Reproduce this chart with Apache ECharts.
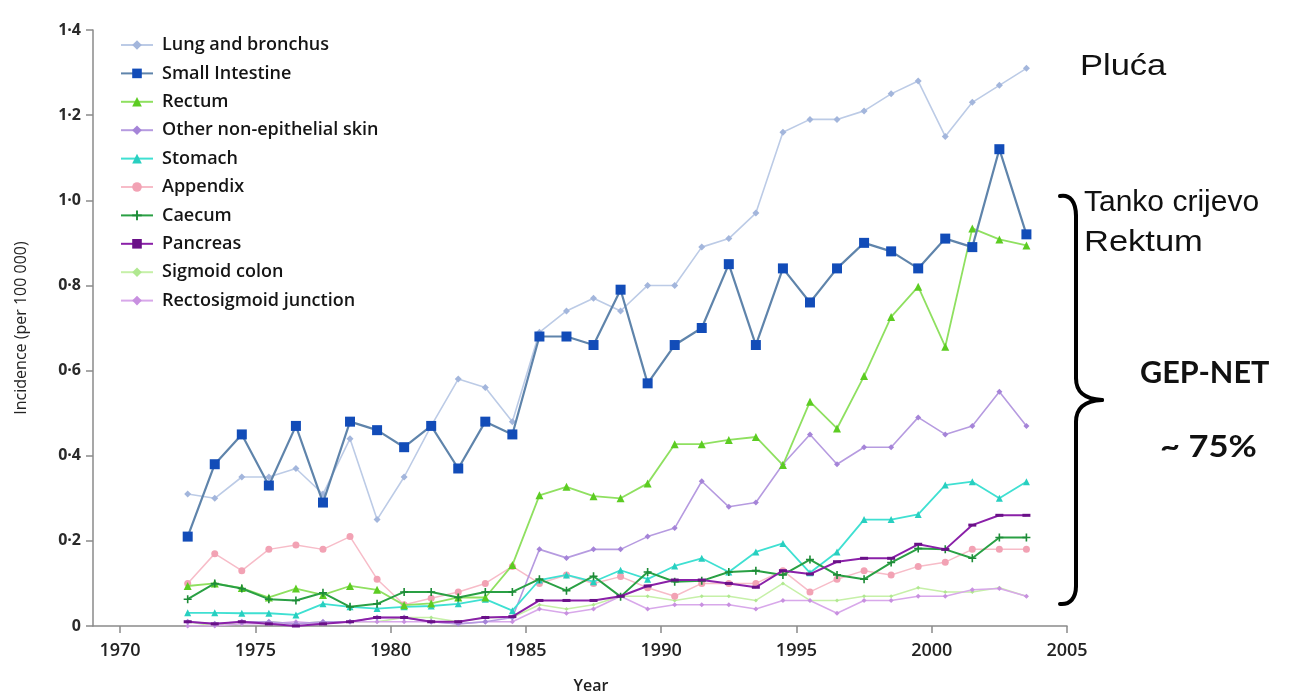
<!DOCTYPE html>
<html>
<head>
<meta charset="utf-8">
<script src="https://cdn.jsdelivr.net/npm/echarts@6/dist/echarts.min.js"></script>
<style>
html,body{margin:0;padding:0;background:#fff;}
#chart{width:1301px;height:700px;}
</style>
</head>
<body>
<div id="chart"></div>
<script>
const years = [1972.5,1973.5,1974.5,1975.5,1976.5,1977.5,1978.5,1979.5,1980.5,1981.5,1982.5,1983.5,1984.5,1985.5,1986.5,1987.5,1988.5,1989.5,1990.5,1991.5,1992.5,1993.5,1994.5,1995.5,1996.5,1997.5,1998.5,1999.5,2000.5,2001.5,2002.5,2003.5];
const xTicks = [1970,1975,1980,1985,1990,1995,2000,2005];
const yTicks = [0,0.2,0.4,0.6,0.8,1.0,1.2,1.4];

const lung = [0.31,0.30,0.35,0.35,0.37,0.31,0.44,0.25,0.35,0.47,0.58,0.56,0.48,0.69,0.74,0.77,0.74,0.80,0.80,0.89,0.91,0.97,1.16,1.19,1.19,1.21,1.25,1.28,1.15,1.23,1.27,1.31];
const smallIntestine = [0.21,0.38,0.45,0.33,0.47,0.29,0.48,0.46,0.42,0.47,0.37,0.48,0.45,0.68,0.68,0.66,0.79,0.57,0.66,0.70,0.85,0.66,0.84,0.76,0.84,0.90,0.88,0.84,0.91,0.89,1.12,0.92];
const rectum = [0.094,0.10,0.089,0.067,0.088,0.073,0.094,0.085,0.049,0.053,0.067,0.067,0.143,0.307,0.327,0.305,0.30,0.335,0.427,0.427,0.437,0.444,0.378,0.527,0.464,0.587,0.726,0.797,0.656,0.934,0.908,0.894];
const skin = [0.01,0.005,0.01,0.01,0.005,0.01,0.01,0.02,0.02,0.01,0.005,0.01,0.02,0.18,0.16,0.18,0.18,0.21,0.23,0.34,0.28,0.29,0.38,0.45,0.38,0.42,0.42,0.49,0.45,0.47,0.55,0.47];
const stomach = [0.031,0.031,0.03,0.03,0.026,0.052,0.045,0.041,0.045,0.047,0.052,0.063,0.036,0.108,0.12,0.104,0.131,0.11,0.141,0.159,0.127,0.174,0.194,0.125,0.174,0.25,0.25,0.262,0.331,0.339,0.30,0.339];
const appendix = [0.10,0.17,0.13,0.18,0.19,0.18,0.21,0.11,0.05,0.065,0.08,0.10,0.14,0.10,0.12,0.10,0.116,0.09,0.07,0.10,0.10,0.10,0.13,0.08,0.11,0.13,0.12,0.14,0.15,0.18,0.18,0.18];
const caecum = [0.063,0.10,0.088,0.063,0.06,0.078,0.045,0.052,0.08,0.08,0.067,0.08,0.08,0.11,0.083,0.117,0.069,0.127,0.104,0.106,0.127,0.13,0.12,0.156,0.12,0.11,0.149,0.182,0.18,0.159,0.208,0.208];
const pancreas = [0.01,0.005,0.01,0.005,0.0,0.005,0.01,0.02,0.02,0.01,0.01,0.02,0.022,0.06,0.06,0.06,0.07,0.094,0.108,0.108,0.10,0.091,0.13,0.122,0.151,0.159,0.159,0.192,0.18,0.237,0.26,0.26];
const sigmoid = [0.01,0.0,0.01,0.01,0.005,0.01,0.01,0.01,0.02,0.02,0.01,0.02,0.02,0.05,0.04,0.05,0.07,0.07,0.06,0.07,0.07,0.06,0.10,0.06,0.06,0.07,0.07,0.09,0.08,0.08,0.09,0.07];
const rectosigmoid = [0.0,0.0,0.005,0.005,0.01,0.005,0.01,0.01,0.01,0.01,0.005,0.01,0.01,0.04,0.03,0.04,0.07,0.04,0.05,0.05,0.05,0.04,0.06,0.06,0.03,0.06,0.06,0.07,0.07,0.085,0.088,0.07];

const seriesNames = ['Lung and bronchus','Small Intestine','Rectum','Other non-epithelial skin','Stomach','Appendix','Caecum','Pancreas','Sigmoid colon','Rectosigmoid junction'];

function pairs(arr){ return years.map((y,i)=>[y,arr[i]]); }

const plusPath = 'path://M4,0h2v4h4v2h-4v4h-2v-4h-4v-2h4z';

function mk(name, arr, lineColor, markColor, symbol, size, width, z){
  return {
    name: name, type: 'line', data: pairs(arr), z: z,
    symbol: symbol, symbolSize: size, showSymbol: symbol !== 'none',
    lineStyle: {color: lineColor, width: width},
    itemStyle: {color: markColor},
    emphasis: {disabled: true},
    animation: false
  };
}

const braceStyle = {stroke: '#000', lineWidth: 4, fill: null, lineCap: 'round'};

const chart = echarts.init(document.getElementById('chart'), null, {renderer:'canvas'});
const option = {
  backgroundColor: '#fff',
  animation: false,
  grid: {left: 93, right: 234, top: 30, bottom: 74, containLabel: false},
  legend: {
    orient: 'vertical', left: 115, top: 31,
    itemWidth: 32, itemHeight: 12, itemGap: 10.4,
    data: seriesNames,
    textStyle: {fontFamily: 'Open Sans', fontSize: 18, fontWeight: 600, color: '#151515', padding: [0,0,0,4]}
  },
  xAxis: {
    type: 'value', min: 1969, max: 2005,
    name: 'Year', nameLocation: 'middle', nameGap: 52,
    nameTextStyle: {fontFamily: 'Open Sans', fontSize: 16, fontWeight: 600, color: '#222', padding:[0,0,0,22]},
    splitLine: {show: false},
    axisLine: {show: true, lineStyle: {color: '#8a8a8a', width: 1.5}},
    axisTick: {show: true, length: 7, inside: false, customValues: xTicks, lineStyle: {color: '#8a8a8a', width: 1.5}},
    axisLabel: {customValues: xTicks, margin: 16, fontFamily: 'Open Sans', fontSize: 18, fontWeight: 600, color: '#222',
      formatter: function(v){ return String(Math.round(v)); }}
  },
  yAxis: {
    type: 'value', min: 0, max: 1.4, interval: 0.2,
    name: 'Incidence (per 100 000)', nameLocation: 'middle', nameGap: 64, nameRotate: 90,
    nameTextStyle: {fontFamily: 'Open Sans', fontSize: 16, fontWeight: 500, color: '#222'},
    splitLine: {show: false},
    axisLine: {show: true, lineStyle: {color: '#8a8a8a', width: 1.5}},
    axisTick: {show: true, length: 7, lineStyle: {color: '#8a8a8a', width: 1.5}},
    axisLabel: {
      margin: 12, fontFamily: 'Open Sans', fontSize: 16, fontWeight: 700, color: '#2a2a2a',
      formatter: function(v){ return v === 0 ? '0' : v.toFixed(1).replace('.', '\u00b7'); }
    }
  },
  series: [
    mk(seriesNames[0], lung, '#bccbe6', '#a3b6dc', 'diamond', 7, 1.6, 3),
    mk(seriesNames[1], smallIntestine, '#5f84ab', '#124cb8', 'rect', 10, 2.2, 10),
    mk(seriesNames[2], rectum, '#8fe060', '#5ccc22', 'triangle', 8, 1.8, 8),
    mk(seriesNames[3], skin, '#b69be0', '#a584d8', 'diamond', 6, 1.6, 6),
    mk(seriesNames[4], stomach, '#3fe0d2', '#28cfc0', 'triangle', 7, 1.8, 7),
    mk(seriesNames[5], appendix, '#f7bcc8', '#f2a2b4', 'circle', 7, 1.5, 4),
    mk(seriesNames[6], caecum, '#2aa044', '#1e8c38', plusPath, 8, 2, 9),
    mk(seriesNames[7], pancreas, '#8a20a8', '#6a1088', 'rect', [8,3], 2, 9),
    mk(seriesNames[8], sigmoid, '#c6f0a8', '#b0e890', 'diamond', 4, 1.5, 2),
    mk(seriesNames[9], rectosigmoid, '#d8a8ea', '#c890e0', 'diamond', 5, 1.5, 2)
  ],
  graphic: [
    {type: 'text', x: 1080, y: 52, scaleX: 1.15, style: {text: 'Plu\u0107a', font: '30px "Liberation Sans"', fill: '#111'}},
    {type: 'text', x: 1084, y: 188, style: {text: 'Tanko crijevo', font: '30px "Liberation Sans"', fill: '#111'}},
    {type: 'text', x: 1084, y: 228, scaleX: 1.15, style: {text: 'Rektum', font: '30px "Liberation Sans"', fill: '#111'}},
    {type: 'text', x: 1140, y: 358, scaleX: 1.02, style: {text: 'GEP-NET', font: 'bold 30px Lato', fill: '#111'}},
    {type: 'text', x: 1160, y: 432, scaleX: 1.15, style: {text: '~ 75%', font: 'bold 30px Lato', fill: '#111'}},
    {type: 'bezierCurve', z: 100, shape: {x1: 1060, y1: 196, cpx1: 1070, cpy1: 194, cpx2: 1076, cpy2: 202, x2: 1076, y2: 216}, style: braceStyle},
    {type: 'line', z: 100, shape: {x1: 1076, y1: 216, x2: 1076, y2: 378}, style: braceStyle},
    {type: 'bezierCurve', z: 100, shape: {x1: 1076, y1: 378, cpx1: 1076, cpy1: 392, cpx2: 1084, cpy2: 399, x2: 1102, y2: 400}, style: braceStyle},
    {type: 'bezierCurve', z: 100, shape: {x1: 1102, y1: 400, cpx1: 1084, cpy1: 401, cpx2: 1076, cpy2: 408, x2: 1076, y2: 422}, style: braceStyle},
    {type: 'line', z: 100, shape: {x1: 1076, y1: 422, x2: 1076, y2: 586}, style: braceStyle},
    {type: 'bezierCurve', z: 100, shape: {x1: 1076, y1: 586, cpx1: 1076, cpy1: 598, cpx2: 1070, cpy2: 605, x2: 1060, y2: 604}, style: braceStyle}
  ]
};
chart.setOption(option);
</script>
</body>
</html>
